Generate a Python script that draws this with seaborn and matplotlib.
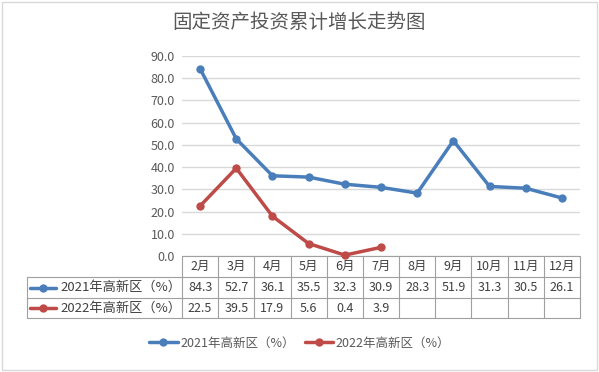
import numpy as np
import pandas as pd
import matplotlib.pyplot as plt
import matplotlib.transforms as mtransforms
from matplotlib.lines import Line2D
from matplotlib.patches import Rectangle
import seaborn as sns


MONTHS = ["2月", "3月", "4月", "5月", "6月", "7月", "8月", "9月", "10月", "11月", "12月"]
GROWTH_2021 = [84.3, 52.7, 36.1, 35.5, 32.3, 30.9, 28.3, 51.9, 31.3, 30.5, 26.1]
GROWTH_2022 = [22.5, 39.5, 17.9, 5.6, 0.4, 3.9]
LABEL_2021 = "2021年高新区（%）"
LABEL_2022 = "2022年高新区（%）"
TITLE = "固定资产投资累计增长走势图"

BLUE = "#4A7EBB"
RED = "#BE4B48"
TEXT = "#404040"
GRID = "#D9D9D9"
TABLE_LINE = "#A0A0A0"


def build_df():
    rows = []
    for label, vals in [(LABEL_2021, GROWTH_2021), (LABEL_2022, GROWTH_2022)]:
        for i, v in enumerate(vals):
            rows.append({"pos": i, "month": MONTHS[i], "value": v, "series": label})
    return pd.DataFrame(rows)


def main():
    sns.set_style("white")
    plt.rcParams["font.family"] = ["Noto Sans CJK SC", "DejaVu Sans"]

    W, H = 599, 372
    fig = plt.figure(figsize=(W / 100, H / 100), dpi=100)
    ax = fig.add_axes([182 / W, 1 - 256 / H, 398 / W, 200 / H])

    df = build_df()
    sns.lineplot(data=df, x="pos", y="value", hue="series",
                 palette={LABEL_2021: BLUE, LABEL_2022: RED},
                 marker="o", markersize=6, markeredgewidth=0,
                 linewidth=2.5, legend=False, ax=ax, zorder=3)
    for ln in ax.lines:
        ln.set_clip_on(False)

    ax.set_xlim(-0.5, len(MONTHS) - 0.5)
    ax.set_ylim(0, 90)
    ax.set_yticks(np.arange(0, 91, 10))
    ax.set_yticklabels([f"{t:.1f}" for t in np.arange(0, 91, 10)],
                       fontsize=9, color="#595959")
    ax.set_xticks([])
    ax.set_xlabel("")
    ax.set_ylabel("")
    ax.tick_params(axis="y", length=0, pad=5)
    ax.yaxis.grid(True, color=GRID, linewidth=1)
    ax.set_axisbelow(True)
    for s in ax.spines.values():
        s.set_visible(False)

    # data table under the plot
    trans = mtransforms.blended_transform_factory(ax.transData, ax.transAxes)
    rows_y = [0, -0.105, -0.21, -0.31]
    label_left = (27 - 182) / 398
    xr = len(MONTHS) - 0.5
    lkw = dict(color=TABLE_LINE, linewidth=0.8, clip_on=False)

    ax.add_line(Line2D([-0.5, xr], [0, 0], transform=trans, **lkw))
    for y in rows_y[1:]:
        ax.add_line(Line2D([label_left, 1], [y, y], transform=ax.transAxes, **lkw))
    for i in range(len(MONTHS) + 1):
        x = i - 0.5
        ax.add_line(Line2D([x, x], [0, rows_y[-1]], transform=trans, **lkw))
    ax.add_line(Line2D([label_left, label_left], [rows_y[1], rows_y[-1]],
                       transform=ax.transAxes, **lkw))

    for i, m in enumerate(MONTHS):
        ax.text(i, (rows_y[0] + rows_y[1]) / 2, m, transform=trans,
                ha="center", va="center", fontsize=9, color=TEXT)

    for r, (label, vals, color) in enumerate([(LABEL_2021, GROWTH_2021, BLUE),
                                             (LABEL_2022, GROWTH_2022, RED)]):
        yc = (rows_y[r + 1] + rows_y[r + 2]) / 2
        for i, v in enumerate(vals):
            ax.text(i, yc, f"{v:.1f}", transform=trans, ha="center",
                    va="center", fontsize=9, color=TEXT)
        k0, k1 = (30 - 182) / 398, (56 - 182) / 398
        ax.add_line(Line2D([k0, k1], [yc, yc], transform=ax.transAxes,
                           color=color, linewidth=2.5, clip_on=False))
        ax.add_line(Line2D([(k0 + k1) / 2], [yc], transform=ax.transAxes,
                           color=color, marker="o", markersize=6,
                           markeredgewidth=0, clip_on=False))
        ax.text((60 - 182) / 398, yc, label, transform=ax.transAxes,
                ha="left", va="center", fontsize=9.5, color=TEXT)

    # legend
    handles = [Line2D([], [], color=BLUE, linewidth=2.5, marker="o",
                      markersize=6, markeredgewidth=0),
               Line2D([], [], color=RED, linewidth=2.5, marker="o",
                      markersize=6, markeredgewidth=0)]
    leg = fig.legend(handles, [LABEL_2021, LABEL_2022], loc="center",
                     bbox_to_anchor=(0.5, 1 - 343 / H), ncol=2, frameon=False,
                     fontsize=9, handlelength=2.3, columnspacing=0.8,
                     handletextpad=0.2)
    for t in leg.get_texts():
        t.set_color("#595959")

    fig.text(0.5, 1 - 22 / H, TITLE, ha="center", va="center",
             fontsize=14, color="#595959")

    fig.patches.append(Rectangle((0.003, 0.005), 0.994, 0.99,
                                 transform=fig.transFigure, fill=False,
                                 edgecolor=GRID, linewidth=1))

    fig.savefig("out.png", dpi=100)
    plt.close(fig)


if __name__ == "__main__":
    main()
